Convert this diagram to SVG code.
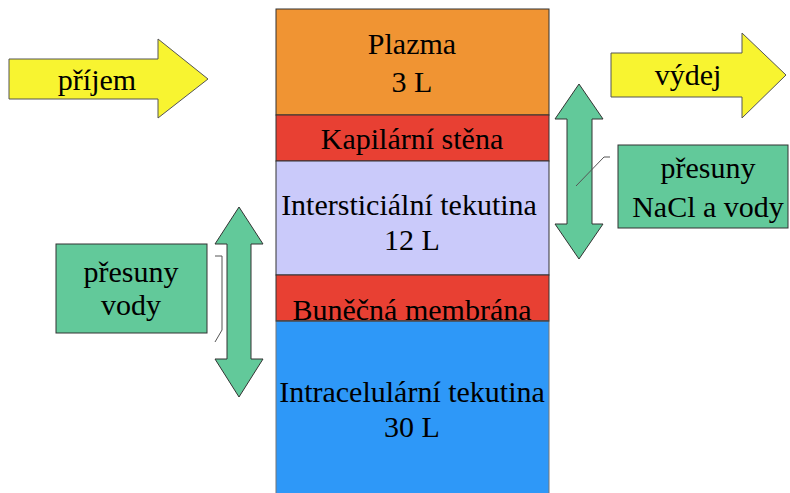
<svg xmlns="http://www.w3.org/2000/svg" width="790" height="493" viewBox="0 0 790 493" font-family="Liberation Serif, Times New Roman, DejaVu Serif, serif">
<style>
text{font-size:30px;fill:#000;text-anchor:middle}
.layer{stroke:#333;stroke-width:1}
.yel{fill:#F8F430;stroke:#555;stroke-width:1}
.grn{fill:#62C99A;stroke:#333;stroke-width:1}
.call{fill:none;stroke:#555;stroke-width:1}
</style>
<rect width="790" height="493" fill="#fff"/>
<g id="column">
<g id="plazma"><rect class="layer" x="276" y="9" width="273" height="106" fill="#F09433"/><text x="412" y="54">Plazma</text><text x="412" y="92">3 L</text></g>
<g id="kapilarni"><rect class="layer" x="276" y="115" width="273" height="46" fill="#E84033"/><text x="412" y="149">Kapilární stěna</text></g>
<g id="intersticialni"><rect class="layer" x="276" y="161" width="273" height="114" fill="#CACAFA"/><text x="409" y="215">Intersticiální tekutina</text><text x="412" y="250">12 L</text></g>
<g id="membrana"><rect class="layer" x="276" y="275" width="273" height="46" fill="#E84033"/><text x="412" y="320">Buněčná membrána</text></g>
<g id="intracelularni"><rect x="276" y="321" width="273" height="175" fill="#2E98F8" stroke="#777" stroke-width="1"/><line x1="276" y1="321" x2="549" y2="321" stroke="#333"/><text x="412" y="402">Intracelulární tekutina</text><text x="412" y="437">30 L</text></g>
</g>
<g id="prijem"><polygon class="yel" points="9,59 158,59 158,39 208,79 158,118 158,99 9,99"/><text x="97" y="90">příjem</text></g>
<g id="vydej"><polygon class="yel" points="611,53 742,53 742,33 786,75 742,118 742,97 611,97"/><text x="688" y="85">výdej</text></g>
<g id="presuny-nacl"><rect class="grn" x="618" y="145" width="170" height="83"/><text x="708" y="178">přesuny</text><text x="708" y="217">NaCl a vody</text></g>
<g id="presuny-vody"><rect class="grn" x="56" y="244" width="151" height="89"/><text x="131" y="282">přesuny</text><text x="131" y="315">vody</text></g>
<g id="connectors">
<polygon class="grn" points="579,84 603,119 592,119 592,224 603,224 579,259 555,224 567,224 567,119 555,119"/>
<polygon class="grn" points="239,207 263,244 251,244 251,359 263,359 239,397 215,359 227,359 227,244 215,244"/>
<polyline class="call" points="576,186 604,157 610,157"/>
<polyline class="call" points="215,256 222,256 222,330 215,342" stroke="#888"/>
</g>
</svg>
